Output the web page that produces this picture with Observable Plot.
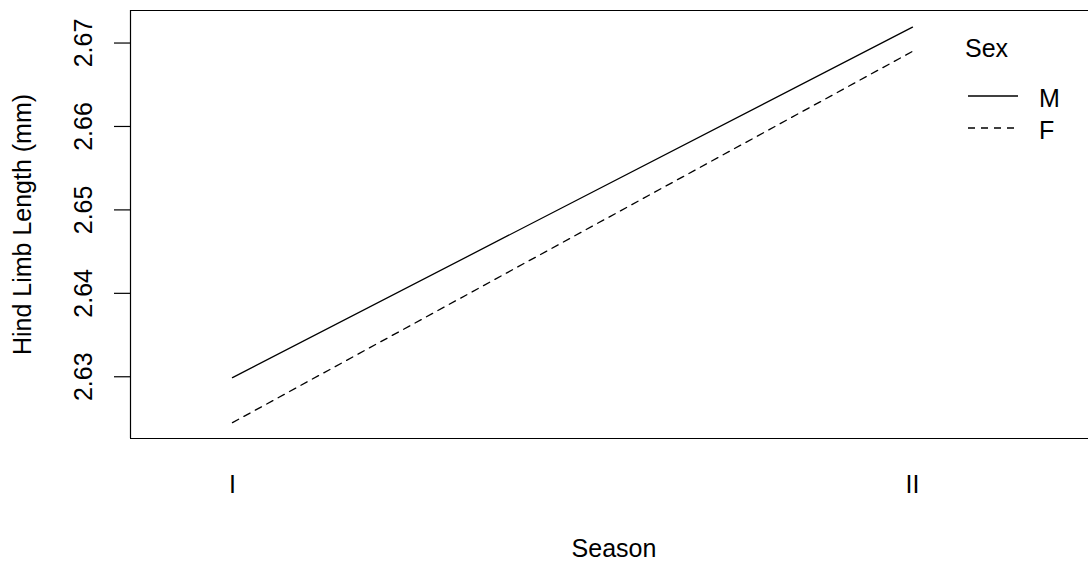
<!DOCTYPE html>
<html>
<head>
<meta charset="utf-8">
<script src="https://cdn.jsdelivr.net/npm/d3@7"></script>
<script src="https://cdn.jsdelivr.net/npm/@observablehq/plot@0.6"></script>
<style>
  html, body { margin: 0; padding: 0; background: white; overflow: hidden; }
  #wrap { position: relative; width: 1088px; height: 565px; }
  #legend { position: absolute; left: 0; top: 0; pointer-events: none; }
</style>
</head>
<body>
<div id="wrap"></div>
<script>
// ---- data ----
const seasons = ["I", "II"];
const sexes = ["M", "F"];
const maleLength = [2.6299, 2.6719];
const femaleLength = [2.6245, 2.6690];
const yTicks = [2.63, 2.64, 2.65, 2.66, 2.67];
const xTitle = "Season";
const yTitle = "Hind Limb Length (mm)";
const legendTitle = "Sex";

// ---- build table ----
const rows = [];
seasons.forEach((s, i) => {
  rows.push({season: s, idx: i + 1, sex: "M", value: maleLength[i]});
  rows.push({season: s, idx: i + 1, sex: "F", value: femaleLength[i]});
});
const maleRows = rows.filter(d => d.sex === "M");
const femaleRows = rows.filter(d => d.sex === "F");

const xDomain = [0.85, 2.2588];
const yDomain = [2.6226, 2.6739];
const font = "'Liberation Sans', Arial, sans-serif";
const dashes = {M: null, F: "7,6"};

const chart = Plot.plot({
  width: 1088,
  height: 565,
  marginLeft: 130,
  marginRight: 0,
  marginTop: 10,
  marginBottom: 127,
  style: {fontFamily: font, fontSize: "25px", color: "black", background: "white"},
  x: {type: "linear", domain: xDomain, axis: null},
  y: {domain: yDomain},
  marks: [
    Plot.ruleY(yDomain, {stroke: "black", strokeWidth: 1.2}),
    Plot.ruleX([xDomain[0]], {stroke: "black", strokeWidth: 1.2}),
    Plot.axisY(yTicks, {tickSize: 16, tickFormat: () => "", label: null, stroke: "black", strokeWidth: 1.2}),
    Plot.text(yTicks, {y: d => d, text: d => d.toFixed(2), frameAnchor: "left", textAnchor: "middle", rotate: -90, dx: -47, lineAnchor: "middle", fontSize: 25, fill: "black"}),
    Plot.text([yTitle], {frameAnchor: "left", textAnchor: "middle", rotate: -90, dx: -108, lineAnchor: "middle", fontSize: 25, fill: "black"}),
    Plot.text(seasons, {x: (d, i) => i + 1, text: d => d, frameAnchor: "bottom", dy: 46.5, lineAnchor: "middle", fontSize: 25, fill: "black"}),
    Plot.text([xTitle], {frameAnchor: "bottom", dx: 4.5, dy: 110, lineAnchor: "middle", fontSize: 25, fill: "black"}),
    Plot.line(maleRows, {x: "idx", y: "value", stroke: "black", strokeWidth: 1.3}),
    Plot.line(femaleRows, {x: "idx", y: "value", stroke: "black", strokeWidth: 1.3, strokeDasharray: dashes.F})
  ]
});
const wrap = document.getElementById("wrap");
wrap.appendChild(chart);

// ---- legend overlay ----
const leg = d3.select(wrap).append("svg")
  .attr("id", "legend")
  .attr("width", 1088).attr("height", 565)
  .style("font-family", font).style("font-size", "25px");
leg.append("text").attr("x", 965).attr("y", 57).attr("fill", "black").text(legendTitle);
sexes.forEach((s, i) => {
  const y = 96 + i * 32;
  leg.append("line").attr("x1", 968).attr("x2", 1018).attr("y1", y).attr("y2", y)
    .attr("stroke", "black").attr("stroke-width", 1.3)
    .attr("stroke-dasharray", dashes[s]);
  leg.append("text").attr("x", 1039).attr("y", 106.5 + i * 32).attr("fill", "black").text(s);
});
</script>
</body>
</html>
